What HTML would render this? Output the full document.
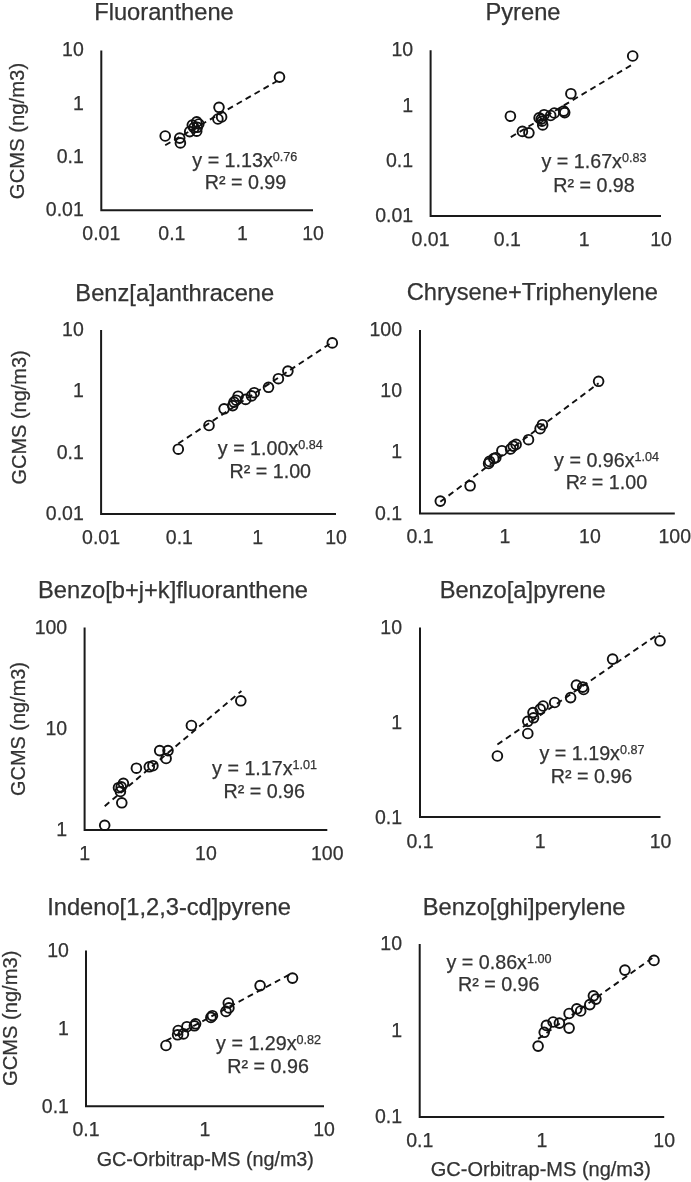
<!DOCTYPE html>
<html lang="en"><head><meta charset="utf-8"><title>GCMS vs GC-Orbitrap-MS</title>
<style>
html,body{margin:0;padding:0;background:#fff}
body{width:691px;height:1182px;overflow:hidden}
svg{display:block}
text{font-family:"Liberation Sans", Arial, Helvetica, sans-serif;fill:#333333;stroke:#333;stroke-width:.25px}
.t{font-size:23.7px}
.k{font-size:19.5px}
.a{font-size:19.7px}
.x{font-size:19.75px}
.ax{stroke:#1a1a1a;stroke-width:2.0;fill:none;stroke-linecap:butt;stroke-linejoin:miter}
.c{fill:none;stroke:#111;stroke-width:1.9}
.d{stroke:#111;stroke-width:1.9;stroke-dasharray:6 4.3;fill:none}
</style></head><body>
<svg width="691" height="1182" viewBox="0 0 691 1182">
<rect width="691" height="1182" fill="#fff"/>
<g>
<text class="t" x="164" y="20.2" text-anchor="middle">Fluoranthene</text>
<path class="ax" d="M101.3 50.5 V210.3 H313"/>
<text class="k" x="101.3" y="240" text-anchor="middle">0.01</text>
<text class="k" x="171.9" y="240" text-anchor="middle">0.1</text>
<text class="k" x="242.4" y="240" text-anchor="middle">1</text>
<text class="k" x="313.0" y="240" text-anchor="middle">10</text>
<text class="k" x="83.8" y="216.3" text-anchor="end">0.01</text>
<text class="k" x="83.8" y="163.0" text-anchor="end">0.1</text>
<text class="k" x="83.8" y="109.8" text-anchor="end">1</text>
<text class="k" x="83.8" y="55.9" text-anchor="end">10</text>
<path class="d" d="M165.2 145.2 L279.6 79.6"/>
<circle class="c" cx="279.5" cy="77.1" r="4.85"/>
<circle class="c" cx="165.2" cy="136.0" r="4.85"/>
<circle class="c" cx="179.7" cy="138.1" r="4.85"/>
<circle class="c" cx="180.4" cy="142.9" r="4.85"/>
<circle class="c" cx="219.0" cy="107.3" r="4.85"/>
<circle class="c" cx="221.6" cy="116.9" r="4.85"/>
<circle class="c" cx="217.9" cy="119.0" r="4.85"/>
<circle class="c" cx="189.7" cy="131.6" r="4.85"/>
<circle class="c" cx="192.3" cy="125.1" r="4.85"/>
<circle class="c" cx="196.7" cy="121.9" r="4.85"/>
<circle class="c" cx="198.8" cy="124.0" r="4.85"/>
<circle class="c" cx="197.3" cy="127.3" r="4.85"/>
<circle class="c" cx="196.7" cy="131.2" r="4.85"/>
<circle class="c" cx="194.0" cy="127.7" r="4.85"/>
<text class="a" x="244.8" y="166.7" text-anchor="middle">y = 1.13x<tspan dy="-6" style="font-size:12.6px">0.76</tspan></text>
<text class="a" x="245.5" y="189.4" text-anchor="middle">R² = 0.99</text>
</g>
<g>
<text class="t" x="523" y="20.2" text-anchor="middle">Pyrene</text>
<path class="ax" d="M430.6 50.35 V216 H661"/>
<text class="k" x="430.6" y="246.1" text-anchor="middle">0.01</text>
<text class="k" x="507.4" y="246.1" text-anchor="middle">0.1</text>
<text class="k" x="584.2" y="246.1" text-anchor="middle">1</text>
<text class="k" x="661.0" y="246.1" text-anchor="middle">10</text>
<text class="k" x="413.1" y="221.6" text-anchor="end">0.01</text>
<text class="k" x="413.1" y="167.3" text-anchor="end">0.1</text>
<text class="k" x="413.1" y="111.5" text-anchor="end">1</text>
<text class="k" x="413.1" y="55.8" text-anchor="end">10</text>
<path class="d" d="M510.8 137.1 L632.7 64.3"/>
<circle class="c" cx="632.7" cy="56.0" r="4.85"/>
<circle class="c" cx="510.4" cy="116.2" r="4.85"/>
<circle class="c" cx="570.9" cy="93.7" r="4.85"/>
<circle class="c" cx="522.4" cy="131.4" r="4.85"/>
<circle class="c" cx="528.9" cy="132.8" r="4.85"/>
<circle class="c" cx="564.7" cy="112.6" r="4.85"/>
<circle class="c" cx="563.7" cy="111.1" r="4.85"/>
<circle class="c" cx="554.3" cy="113.0" r="4.85"/>
<circle class="c" cx="550.7" cy="115.5" r="4.85"/>
<circle class="c" cx="544.1" cy="114.7" r="4.85"/>
<circle class="c" cx="542.7" cy="124.9" r="4.85"/>
<circle class="c" cx="539.1" cy="117.9" r="4.85"/>
<circle class="c" cx="541.2" cy="119.1" r="4.85"/>
<circle class="c" cx="542.0" cy="121.2" r="4.85"/>
<text class="a" x="594" y="168.1" text-anchor="middle">y = 1.67x<tspan dy="-6" style="font-size:12.6px">0.83</tspan></text>
<text class="a" x="594" y="191.8" text-anchor="middle">R² = 0.98</text>
</g>
<g>
<text class="t" x="174.8" y="300.5" text-anchor="middle">Benz[a]anthracene</text>
<path class="ax" d="M101.1 330 V513.9 H336"/>
<text class="k" x="101.1" y="543.6" text-anchor="middle">0.01</text>
<text class="k" x="179.4" y="543.6" text-anchor="middle">0.1</text>
<text class="k" x="257.7" y="543.6" text-anchor="middle">1</text>
<text class="k" x="336.0" y="543.6" text-anchor="middle">10</text>
<text class="k" x="83.8" y="519.9" text-anchor="end">0.01</text>
<text class="k" x="83.8" y="458.6" text-anchor="end">0.1</text>
<text class="k" x="83.8" y="397.3" text-anchor="end">1</text>
<text class="k" x="83.8" y="336.0" text-anchor="end">10</text>
<path class="d" d="M178.3 443.5 L332.3 342.2"/>
<circle class="c" cx="332.3" cy="342.9" r="4.85"/>
<circle class="c" cx="178.3" cy="449.2" r="4.85"/>
<circle class="c" cx="209.0" cy="425.5" r="4.85"/>
<circle class="c" cx="224.1" cy="408.8" r="4.85"/>
<circle class="c" cx="232.7" cy="405.6" r="4.85"/>
<circle class="c" cx="234.0" cy="402.1" r="4.85"/>
<circle class="c" cx="236.2" cy="400.2" r="4.85"/>
<circle class="c" cx="238.1" cy="396.2" r="4.85"/>
<circle class="c" cx="245.6" cy="399.4" r="4.85"/>
<circle class="c" cx="251.5" cy="395.9" r="4.85"/>
<circle class="c" cx="254.2" cy="392.7" r="4.85"/>
<circle class="c" cx="268.5" cy="387.3" r="4.85"/>
<circle class="c" cx="278.4" cy="378.7" r="4.85"/>
<circle class="c" cx="287.9" cy="371.1" r="4.85"/>
<text class="a" x="270.3" y="454.8" text-anchor="middle">y = 1.00x<tspan dy="-6" style="font-size:12.6px">0.84</tspan></text>
<text class="a" x="270.3" y="478.3" text-anchor="middle">R² = 1.00</text>
</g>
<g>
<text class="t" x="532.3" y="300.2" text-anchor="middle">Chrysene+Triphenylene</text>
<path class="ax" d="M420 330 V513.5 H674.8"/>
<text class="k" x="420.0" y="543.1" text-anchor="middle">0.1</text>
<text class="k" x="504.9" y="543.1" text-anchor="middle">1</text>
<text class="k" x="589.9" y="543.1" text-anchor="middle">10</text>
<text class="k" x="674.8" y="543.1" text-anchor="middle">100</text>
<text class="k" x="402" y="519.5" text-anchor="end">0.1</text>
<text class="k" x="402" y="458.3" text-anchor="end">1</text>
<text class="k" x="402" y="397.2" text-anchor="end">10</text>
<text class="k" x="402" y="336.0" text-anchor="end">100</text>
<path class="d" d="M440.3 501.8 L598.6 383.3"/>
<circle class="c" cx="598.6" cy="381.3" r="4.85"/>
<circle class="c" cx="440.3" cy="501.1" r="4.85"/>
<circle class="c" cx="470.1" cy="485.8" r="4.85"/>
<circle class="c" cx="488.6" cy="463.5" r="4.85"/>
<circle class="c" cx="493.8" cy="458.5" r="4.85"/>
<circle class="c" cx="495.8" cy="457.7" r="4.85"/>
<circle class="c" cx="501.9" cy="450.7" r="4.85"/>
<circle class="c" cx="510.6" cy="449.0" r="4.85"/>
<circle class="c" cx="513.2" cy="446.1" r="4.85"/>
<circle class="c" cx="516.1" cy="444.4" r="4.85"/>
<circle class="c" cx="528.5" cy="439.7" r="4.85"/>
<circle class="c" cx="540.1" cy="428.7" r="4.85"/>
<circle class="c" cx="542.4" cy="424.7" r="4.85"/>
<circle class="c" cx="489.5" cy="461.4" r="4.85"/>
<text class="a" x="606.6" y="467.2" text-anchor="middle">y = 0.96x<tspan dy="-6" style="font-size:12.6px">1.04</tspan></text>
<text class="a" x="606.4" y="488.7" text-anchor="middle">R² = 1.00</text>
</g>
<g>
<text class="t" x="173" y="598" text-anchor="middle">Benzo[b+j+k]fluoranthene</text>
<path class="ax" d="M84.6 627.5 V830 H327.3"/>
<text class="k" x="84.6" y="859.8" text-anchor="middle">1</text>
<text class="k" x="205.9" y="859.8" text-anchor="middle">10</text>
<text class="k" x="327.3" y="859.8" text-anchor="middle">100</text>
<text class="k" x="67.2" y="836.0" text-anchor="end">1</text>
<text class="k" x="67.2" y="734.8" text-anchor="end">10</text>
<text class="k" x="67.2" y="633.5" text-anchor="end">100</text>
<path class="d" d="M104.7 806.2 L241.4 691.0"/>
<circle class="c" cx="240.8" cy="700.8" r="4.85"/>
<circle class="c" cx="191.4" cy="725.5" r="4.85"/>
<circle class="c" cx="168.0" cy="750.6" r="4.85"/>
<circle class="c" cx="159.7" cy="750.6" r="4.85"/>
<circle class="c" cx="166.1" cy="758.5" r="4.85"/>
<circle class="c" cx="152.9" cy="765.7" r="4.85"/>
<circle class="c" cx="149.3" cy="766.8" r="4.85"/>
<circle class="c" cx="136.4" cy="768.2" r="4.85"/>
<circle class="c" cx="123.4" cy="783.3" r="4.85"/>
<circle class="c" cx="121.2" cy="786.9" r="4.85"/>
<circle class="c" cx="118.5" cy="787.7" r="4.85"/>
<circle class="c" cx="120.4" cy="791.5" r="4.85"/>
<circle class="c" cx="121.8" cy="802.8" r="4.85"/>
<circle class="c" cx="104.7" cy="825.3" r="4.85"/>
<text class="a" x="264.6" y="774.6" text-anchor="middle">y = 1.17x<tspan dy="-6" style="font-size:12.6px">1.01</tspan></text>
<text class="a" x="264.2" y="797.5" text-anchor="middle">R² = 0.96</text>
</g>
<g>
<text class="t" x="522.6" y="598.4" text-anchor="middle">Benzo[a]pyrene</text>
<path class="ax" d="M420 627.5 V817 H660.5"/>
<text class="k" x="420.0" y="848.4" text-anchor="middle">0.1</text>
<text class="k" x="540.2" y="848.4" text-anchor="middle">1</text>
<text class="k" x="660.5" y="848.4" text-anchor="middle">10</text>
<text class="k" x="402" y="824.1" text-anchor="end">0.1</text>
<text class="k" x="402" y="728.8" text-anchor="end">1</text>
<text class="k" x="402" y="633.5" text-anchor="end">10</text>
<path class="d" d="M497.4 744.5 L660.0 633.0"/>
<circle class="c" cx="660.0" cy="640.8" r="4.85"/>
<circle class="c" cx="612.6" cy="659.1" r="4.85"/>
<circle class="c" cx="583.6" cy="689.5" r="4.85"/>
<circle class="c" cx="582.7" cy="687.1" r="4.85"/>
<circle class="c" cx="576.4" cy="685.1" r="4.85"/>
<circle class="c" cx="570.6" cy="697.6" r="4.85"/>
<circle class="c" cx="554.7" cy="702.5" r="4.85"/>
<circle class="c" cx="543.1" cy="706.0" r="4.85"/>
<circle class="c" cx="540.2" cy="709.1" r="4.85"/>
<circle class="c" cx="533.0" cy="712.6" r="4.85"/>
<circle class="c" cx="533.5" cy="717.8" r="4.85"/>
<circle class="c" cx="527.8" cy="721.3" r="4.85"/>
<circle class="c" cx="527.8" cy="733.5" r="4.85"/>
<circle class="c" cx="497.4" cy="756.0" r="4.85"/>
<text class="a" x="592" y="759.9" text-anchor="middle">y = 1.19x<tspan dy="-6" style="font-size:12.6px">0.87</tspan></text>
<text class="a" x="591.5" y="783.4" text-anchor="middle">R² = 0.96</text>
</g>
<g>
<text class="t" x="169" y="915" text-anchor="middle">Indeno[1,2,3-cd]pyrene</text>
<path class="ax" d="M86 950.6 V1106.3 H324"/>
<text class="k" x="86.0" y="1136" text-anchor="middle">0.1</text>
<text class="k" x="205.0" y="1136" text-anchor="middle">1</text>
<text class="k" x="324.0" y="1136" text-anchor="middle">10</text>
<text class="k" x="68.9" y="1113.0" text-anchor="end">0.1</text>
<text class="k" x="68.9" y="1034.9" text-anchor="end">1</text>
<text class="k" x="68.9" y="956.7" text-anchor="end">10</text>
<path class="d" d="M166.0 1040.8 L292.5 972.9"/>
<circle class="c" cx="292.5" cy="978.1" r="4.85"/>
<circle class="c" cx="260.1" cy="985.6" r="4.85"/>
<circle class="c" cx="228.3" cy="1003.0" r="4.85"/>
<circle class="c" cx="228.9" cy="1007.9" r="4.85"/>
<circle class="c" cx="226.0" cy="1011.4" r="4.85"/>
<circle class="c" cx="212.4" cy="1015.7" r="4.85"/>
<circle class="c" cx="210.9" cy="1017.4" r="4.85"/>
<circle class="c" cx="195.6" cy="1023.8" r="4.85"/>
<circle class="c" cx="194.4" cy="1025.8" r="4.85"/>
<circle class="c" cx="186.9" cy="1026.7" r="4.85"/>
<circle class="c" cx="178.2" cy="1030.5" r="4.85"/>
<circle class="c" cx="183.4" cy="1033.9" r="4.85"/>
<circle class="c" cx="177.6" cy="1034.8" r="4.85"/>
<circle class="c" cx="166.0" cy="1045.5" r="4.85"/>
<text class="a" x="268.6" y="1050.4" text-anchor="middle">y = 1.29x<tspan dy="-6" style="font-size:12.6px">0.82</tspan></text>
<text class="a" x="268.1" y="1073" text-anchor="middle">R² = 0.96</text>
<text class="x" style="font-size:19.75px" x="205.3" y="1165.7" text-anchor="middle">GC-Orbitrap-MS (ng/m3)</text>
</g>
<g>
<text class="t" x="524.1" y="915" text-anchor="middle">Benzo[ghi]perylene</text>
<path class="ax" d="M419.7 944 V1117 H664.2"/>
<text class="k" x="419.7" y="1147" text-anchor="middle">0.1</text>
<text class="k" x="542.0" y="1147" text-anchor="middle">1</text>
<text class="k" x="664.2" y="1147" text-anchor="middle">10</text>
<text class="k" x="402" y="1123.0" text-anchor="end">0.1</text>
<text class="k" x="402" y="1036.5" text-anchor="end">1</text>
<text class="k" x="402" y="950.0" text-anchor="end">10</text>
<path class="d" d="M538.1 1038.9 L654.0 956.9"/>
<circle class="c" cx="654.0" cy="960.4" r="4.85"/>
<circle class="c" cx="624.9" cy="970.1" r="4.85"/>
<circle class="c" cx="593.4" cy="995.8" r="4.85"/>
<circle class="c" cx="595.9" cy="999.1" r="4.85"/>
<circle class="c" cx="589.8" cy="1004.6" r="4.85"/>
<circle class="c" cx="576.8" cy="1008.8" r="4.85"/>
<circle class="c" cx="580.7" cy="1011.0" r="4.85"/>
<circle class="c" cx="569.1" cy="1013.5" r="4.85"/>
<circle class="c" cx="559.4" cy="1023.1" r="4.85"/>
<circle class="c" cx="553.1" cy="1022.0" r="4.85"/>
<circle class="c" cx="546.4" cy="1025.4" r="4.85"/>
<circle class="c" cx="569.1" cy="1028.1" r="4.85"/>
<circle class="c" cx="544.2" cy="1032.3" r="4.85"/>
<circle class="c" cx="538.1" cy="1046.1" r="4.85"/>
<text class="a" x="499" y="968.8" text-anchor="middle">y = 0.86x<tspan dy="-6" style="font-size:12.6px">1.00</tspan></text>
<text class="a" x="498.7" y="990.9" text-anchor="middle">R² = 0.96</text>
<text class="x" style="font-size:20px" x="540.8" y="1175.5" text-anchor="middle">GC-Orbitrap-MS (ng/m3)</text>
</g>
<text class="x" style="font-size:20.27px" transform="translate(24.3 131.0) rotate(-90)" text-anchor="middle">GCMS (ng/m3)</text>
<text class="x" style="font-size:19.97px" transform="translate(25.9 417.4) rotate(-90)" text-anchor="middle">GCMS (ng/m3)</text>
<text class="x" style="font-size:19.92px" transform="translate(24.9 729.0) rotate(-90)" text-anchor="middle">GCMS (ng/m3)</text>
<text class="x" style="font-size:20.15px" transform="translate(17.4 1018.3) rotate(-90)" text-anchor="middle">GCMS (ng/m3)</text>
</svg>
</body></html>
